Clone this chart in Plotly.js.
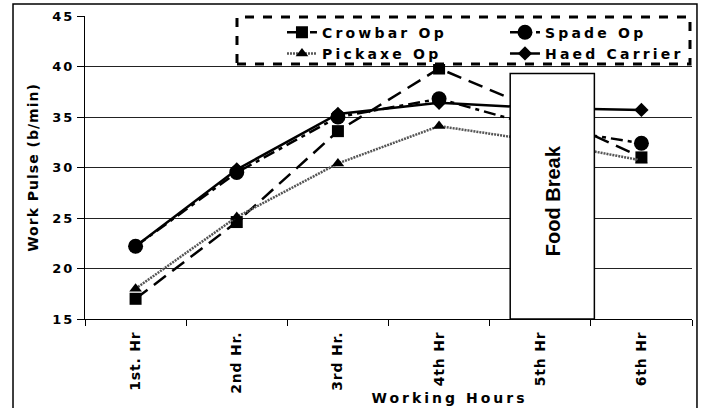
<!DOCTYPE html>
<html><head><meta charset="utf-8">
<script src="https://cdn.plot.ly/plotly-3.0.1.min.js"></script>
<style>
html,body{margin:0;padding:0;background:#fff;}
#chart{width:701px;height:408px;}
.legendtext{letter-spacing:3.2px;}
.ytitle{letter-spacing:1px;}
.ytick text{letter-spacing:2px;}
.xtick text{letter-spacing:0.8px;}
g.annotation[data-index="1"] text{letter-spacing:3px;}
</style></head><body><div id="chart"></div>
<script>
var hours = ['1st. Hr', '2nd Hr.', '3rd Hr.', '4th Hr', '5th Hr', '6th Hr'];
var crowbarOp = [17.0, 24.6, 33.6, 39.8, 35.6, 31.0];
var spadeOp = [22.2, 29.5, 35.0, 36.8, 34.0, 32.4];
var pickaxeOp = [18.0, 25.1, 30.4, 34.1, 32.6, 30.7];
var haedCarrier = [22.2, 29.8, 35.3, 36.4, 35.9, 35.7];
var seriesNames = ['Crowbar Op', 'Spade Op', 'Pickaxe Op', 'Haed Carrier'];
var yTickVals = [15, 20, 25, 30, 35, 40, 45];
var breakLabel = 'Food Break';
var xTitle = 'Working Hours';
var yTitle = 'Work Pulse (b/min)';

var traces = [
  {x: hours, y: crowbarOp, name: seriesNames[0], mode: 'lines+markers',
   line: {color: '#000', width: 2.5, dash: '15px,8px'},
   marker: {symbol: 'square', size: 12, color: '#000'}},
  {x: hours, y: spadeOp, name: seriesNames[1], mode: 'lines+markers',
   line: {color: '#000', width: 2.5, dash: '12px,5px,4px,5px'},
   marker: {symbol: 'circle', size: 15, color: '#000'}},
  {x: hours, y: pickaxeOp, name: seriesNames[2], mode: 'lines+markers',
   line: {color: '#555', width: 2.5, dash: '2px,1px'},
   marker: {symbol: 'triangle-up', size: 11, color: '#000'}},
  {x: hours, y: haedCarrier, name: seriesNames[3], mode: 'lines+markers',
   line: {color: '#000', width: 2.5},
   marker: {symbol: 'diamond', size: 11, color: '#000'}}
];

var bold = 'DejaVu Sans';
var layout = {
  width: 701, height: 408,
  margin: {l: 85, r: 9, t: 16, b: 89, autoexpand: false},
  paper_bgcolor: '#fff', plot_bgcolor: '#fff',
  showlegend: true,
  font: {family: bold, color: '#000', weight: 700},
  xaxis: {
    type: 'category', range: [-0.5, 5.5],
    tickangle: -90, tickson: 'boundaries', ticks: 'outside', ticklen: 6,
    ticklabelstandoff: 6,
    tickcolor: '#000', tickwidth: 1,
    showline: true, linecolor: '#000', linewidth: 1,
    showgrid: false, zeroline: false,
    tickfont: {family: bold, size: 14, weight: 700, color: '#000'}
  },
  yaxis: {
    range: [15, 45], tickvals: yTickVals, ticks: 'outside', ticklen: 7,
    tickcolor: '#000', tickwidth: 1,
    showline: true, linecolor: '#000', linewidth: 1,
    showgrid: true, gridcolor: '#222', gridwidth: 1, zeroline: false,
    tickfont: {family: bold, size: 13, weight: 700, color: '#000'},
    title: {text: yTitle, standoff: 10, font: {family: bold, size: 14, weight: 700, color: '#000'}}
  },
  legend: {
    orientation: 'h', x: 0.3245, y: 0.998, xanchor: 'left', yanchor: 'top',
    entrywidth: 178, entrywidthmode: 'pixels',
    bgcolor: 'rgba(0,0,0,0)', borderwidth: 0,
    font: {family: bold, size: 14, weight: 700, color: '#000'},
    tracegroupgap: 0
  },
  shapes: [
    {type: 'rect', xref: 'paper', yref: 'paper', x0: 0.2504, x1: 0.9967, y0: 0.8416, y1: 0.9967,
     fillcolor: '#fff', line: {color: '#000', width: 3, dash: 'dash'}, layer: 'above'},
    {type: 'rect', xref: 'x', yref: 'y', x0: 3.703, x1: 4.535, y0: 15, y1: 39.3,
     fillcolor: '#fff', line: {color: '#000', width: 1.5}, layer: 'above'},
    {type: 'rect', xref: 'paper', yref: 'paper', x0: -0.1186, x1: 1.0082, y0: -0.32, y1: 1.0396,
     fillcolor: 'rgba(0,0,0,0)', line: {color: '#000', width: 1.5}, layer: 'above'}
  ],
  annotations: [
    {x: 4.12, y: 26.7, xref: 'x', yref: 'y', text: breakLabel, showarrow: false, textangle: -90,
     font: {family: 'Liberation Sans', size: 20, weight: 700, color: '#000'}},
    {x: 0.6013, y: -0.26, xref: 'paper', yref: 'paper', text: xTitle, showarrow: false,
     xanchor: 'center', yanchor: 'middle',
     font: {family: bold, size: 14, weight: 700, color: '#000'}}
  ]
};

Plotly.newPlot('chart', traces, layout, {displayModeBar: false, staticPlot: true});
</script></body></html>
